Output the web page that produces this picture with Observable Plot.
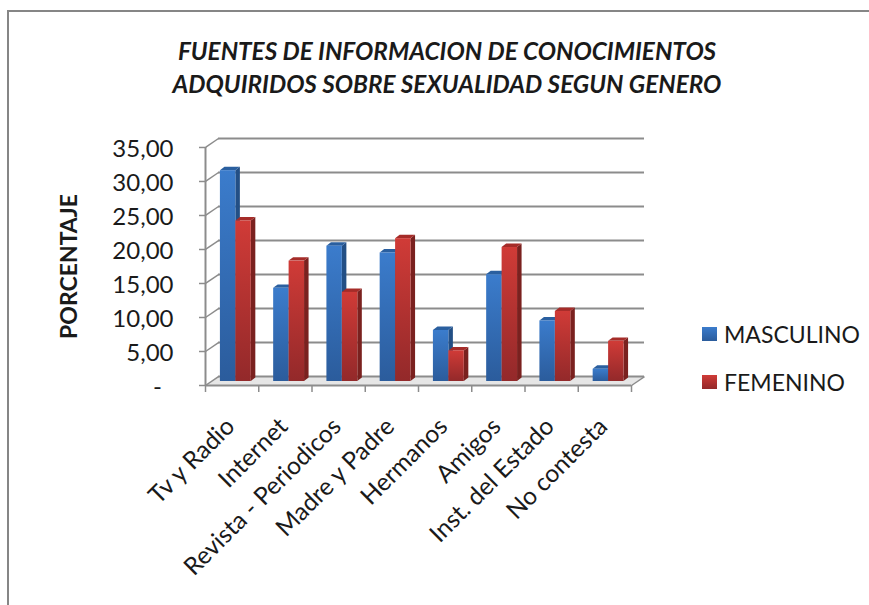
<!DOCTYPE html>
<html><head><meta charset="utf-8">
<script src="https://cdn.jsdelivr.net/npm/d3@7"></script>
<script src="https://cdn.jsdelivr.net/npm/@observablehq/plot@0.6"></script>
<style>
html,body{margin:0;background:#fff;overflow:hidden}
#fig{position:relative;width:869px;height:605px;font-family:Lato,sans-serif;color:#1a1a1a}
#frame{position:absolute;left:7px;top:10px;right:-5px;bottom:-5px;border-left:2.5px solid #868686;border-top:2.5px solid #868686}
#title{position:absolute;left:0;width:894px;top:34px;text-align:center;font-weight:700;font-style:italic;font-size:24.3px;line-height:33px;white-space:nowrap}
.lg{position:absolute;left:702px;font-size:23px;line-height:28px;white-space:nowrap}
.lg i{position:absolute;left:0;top:7px;width:15px;height:14px}
.lg span{position:absolute;left:22px;top:0}
svg{position:absolute;left:0;top:0}
</style></head><body>
<div id="fig"><div id="frame"></div>
<div id="title">FUENTES DE INFORMACION DE CONOCIMIENTOS<br>ADQUIRIDOS SOBRE SEXUALIDAD SEGUN GENERO</div>
<div class="lg" style="top:320px"><i style="background:linear-gradient(#3b7ccc,#2b5c9c)"></i><span>MASCULINO</span></div>
<div class="lg" style="top:368px"><i style="background:linear-gradient(#d03b37,#93292a)"></i><span>FEMENINO</span></div>
</div>
<script>
const categories = ["Tv y Radio","Internet","Revista - Periodicos","Madre y Padre","Hermanos","Amigos","Inst. del Estado","No contesta"];
const masculino = [31.0,13.7,19.9,18.9,7.5,15.7,8.9,1.8];
const femenino  = [23.6,17.7,13.1,21.0,4.5,19.7,10.3,5.9];
const yTicks = [0,5,10,15,20,25,30,35];
const yTickLabels = ["-","5,00","10,00","15,00","20,00","25,00","30,00","35,00"];

const wallDx = 0.244, wallDy = 1.32;   // oblique offset of back wall, data units
const baseDy = 0.59;                   // bars stand mid-floor
const barLeft = 0.28, barW = 0.29, sideDx = 0.085, sideDy = 0.5;

const bars = (vals, k) => vals.map((v,i)=>({c:categories[i], x1:i+barLeft+k*barW, x2:i+barLeft+(k+1)*barW, y1:baseDy, y2:v+baseDy}));
const sideRows = b => b.flatMap(d=>[
  {c:d.c,x:d.x2,lo:d.y1,hi:d.y2},
  {c:d.c,x:d.x2+sideDx,lo:d.y1+sideDy,hi:d.y2+sideDy}]);
const topRows = b => b.flatMap(d=>[
  {c:d.c,y:d.y2,l:d.x1,r:d.x2},
  {c:d.c,y:d.y2+sideDy,l:d.x1+sideDx,r:d.x2+sideDx}]);
const series = (vals,k,front,side,top)=>{
  const b = bars(vals,k);
  return [
    Plot.area(sideRows(b),{x1:"x",y1:"lo",y2:"hi",z:"c",fill:side}),
    Plot.areaX(topRows(b),{y:"y",x1:"l",x2:"r",z:"c",fill:top}),
    Plot.rect(b,{x1:"x1",x2:"x2",y1:"y1",y2:"y2",fill:front})
  ];
};
const defs = () => {
  const svg = d3.create("svg:defs");
  [["gb","#3b7ccc","#2b5c9c"],["gr","#d03b37","#93292a"]].forEach(([id,a,b])=>{
    const g = svg.append("linearGradient").attr("id",id).attr("x1",0).attr("x2",0).attr("y1",0).attr("y2",1);
    g.append("stop").attr("offset",0).attr("stop-color",a);
    g.append("stop").attr("offset",1).attr("stop-color",b);
  });
  return svg.node();
};
const grey = "#8c8c8c";
const plot = Plot.plot({
  width:869, height:605,
  marginLeft:205, marginRight:225, marginTop:138, marginBottom:220,
  x:{domain:[0,8+wallDx], axis:null},
  y:{domain:[0,35+wallDy], axis:null},
  style:{fontFamily:"Lato,sans-serif",background:"transparent",overflow:"visible"},
  marks:[
    defs,
    Plot.areaX([{y:0,l:0,r:8},{y:wallDy,l:wallDx,r:8+wallDx}],{y:"y",x1:"l",x2:"r",fill:"#e6e6e6"}),
    Plot.ruleY(yTicks,{y:d=>d+wallDy,x1:wallDx,x2:8+wallDx,stroke:grey,strokeWidth:2}),
    Plot.link(yTicks,{x1:0,y1:d=>d,x2:wallDx,y2:d=>d+wallDy,stroke:grey,strokeWidth:1.5}),
    Plot.link([0],{x1:8,y1:0,x2:8+wallDx,y2:wallDy,stroke:grey,strokeWidth:1.5}),
    Plot.ruleX([0],{y1:0,y2:35,stroke:grey,strokeWidth:2}),
    Plot.ruleY([0],{x1:0,x2:8,stroke:grey,strokeWidth:2}),
    Plot.axisY({ticks:yTicks,anchor:"left",tickSize:6,stroke:grey,strokeWidth:1.5,tickFormat:()=>"",label:null}),
    Plot.text(yTicks,{x:0,y:d=>d,text:(d,i)=>yTickLabels[i],dx:-32,dy:2,textAnchor:"end",fontSize:24,fill:"#1a1a1a",
      filter:d=>d>0}),
    Plot.text(yTicks,{x:0,y:d=>d,text:(d,i)=>yTickLabels[i],dx:-48,dy:2,fontSize:24,fill:"#1a1a1a",
      filter:d=>d===0}),
    Plot.axisX({ticks:d3.range(9),anchor:"bottom",tickSize:7,stroke:grey,strokeWidth:1.5,tickFormat:()=>"",label:null}),
    ...series(masculino,0,"url(#gb)","#234f85","#2a5f9f"),
    ...series(femenino,1,"url(#gr)","#7a211f","#a52c29"),
    Plot.text(categories,{x:(d,i)=>i+0.47,y:0,text:d=>d,dy:37,rotate:-45,textAnchor:"end",lineAnchor:"middle",fontSize:24.5,fill:"#1a1a1a"}),
    Plot.text(["PORCENTAJE"],{x:0,y:17.5,dx:-136,rotate:-90,text:d=>d,fontSize:23,fontWeight:700,fill:"#1a1a1a"})
  ]
});
document.getElementById("fig").appendChild(plot);
</script>
</body></html>
